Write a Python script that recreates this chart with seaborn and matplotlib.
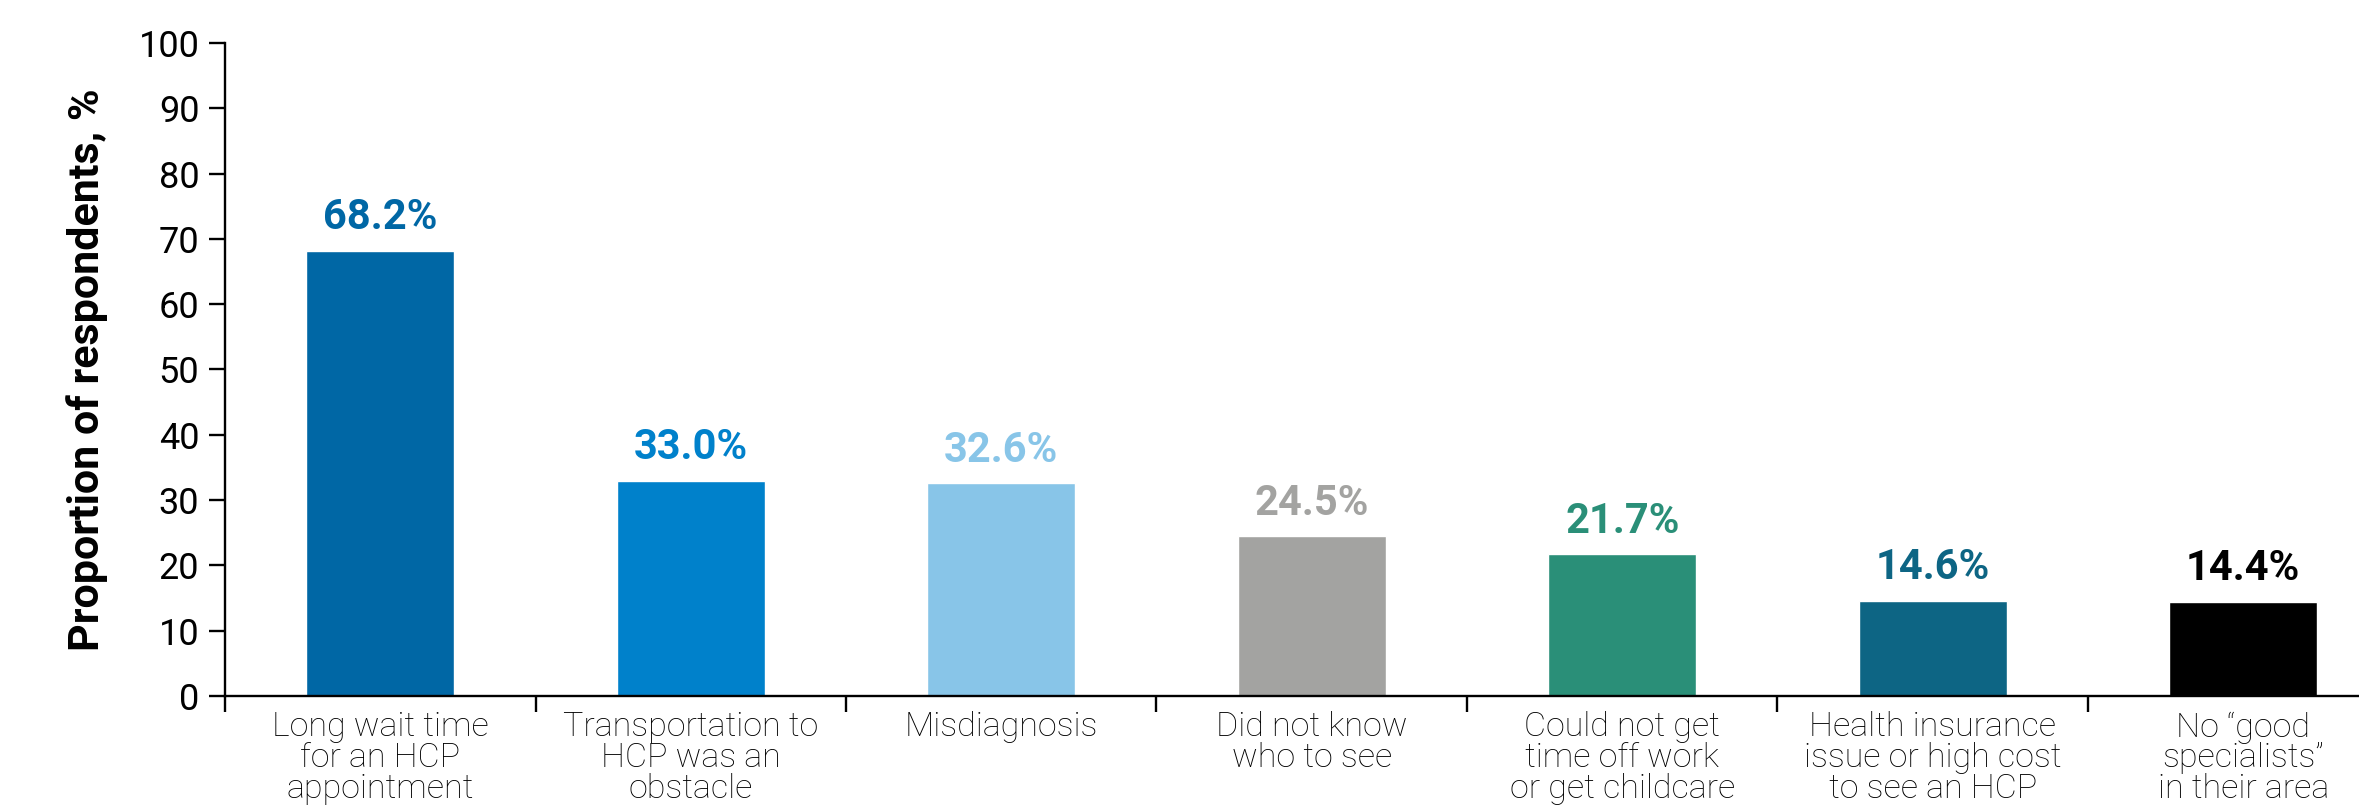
import matplotlib
matplotlib.use("Agg")
import matplotlib.pyplot as plt
import seaborn as sns
import pandas as pd

# Reasons for delayed diagnosis (proportion of respondents, %)
categories = [
    "Long wait time\nfor an HCP\nappointment",
    "Transportation to\nHCP was an\nobstacle",
    "Misdiagnosis",
    "Did not know\nwho to see",
    "Could not get\ntime off work\nor get childcare",
    "Health insurance\nissue or high cost\nto see an HCP",
    "No \u201cgood\nspecialists\u201d\nin their area",
]
values = [68.2, 33.0, 32.6, 24.5, 21.7, 14.6, 14.4]
colors = ["#0067A5", "#0081CB", "#88C5E8", "#A3A3A1", "#2A8F78", "#0D6584", "#000000"]

df = pd.DataFrame({"reason": categories, "pct": values})

sns.set_theme(style="white")
plt.rcParams["font.family"] = ["Roboto", "DejaVu Sans"]

fig = plt.figure(figsize=(23.59, 8.05), dpi=100)
ax = fig.add_axes([0.0954, 0.1354, 1 - 0.0954, 0.8112])

sns.barplot(data=df, x="reason", y="pct", hue="reason", palette=colors,
            width=0.477, saturation=1, legend=False, ax=ax)

ax.set_xlim(-0.5, 6.373)
ax.set_ylim(0, 100)

# y axis
ax.set_yticks(range(0, 101, 10))
ax.tick_params(axis="y", left=True, length=11.5, width=1.7, pad=7,
               labelsize=26, color="black", labelcolor="black")

# x axis: labels under bars, tick marks between categories
ax.set_xticks(range(len(categories)))
ax.set_xticklabels(categories, fontsize=24.5, fontweight="light", linespacing=0.95)
ax.tick_params(axis="x", which="major", length=0, pad=11, labelcolor="black")
ax.set_xticks([k - 0.5 for k in range(len(categories))], minor=True)
ax.tick_params(axis="x", which="minor", bottom=True, length=11.5, width=1.7,
               color="black")

for side in ["top", "right"]:
    ax.spines[side].set_visible(False)
for side in ["left", "bottom"]:
    ax.spines[side].set_color("black")
    ax.spines[side].set_linewidth(1.7)

ax.set_xlabel("")
ax.set_ylabel("Proportion of respondents, %", fontsize=31, fontweight="bold",
              color="black")
ax.yaxis.set_label_coords(-0.0548, 0.5)

# value labels
for cont, val, col in zip(ax.containers, values, colors):
    ax.bar_label(cont, labels=[f"{val:.1f}%"], padding=9, fontsize=30,
                 fontweight="bold", color=col)

fig.savefig("out.png", dpi=100)
